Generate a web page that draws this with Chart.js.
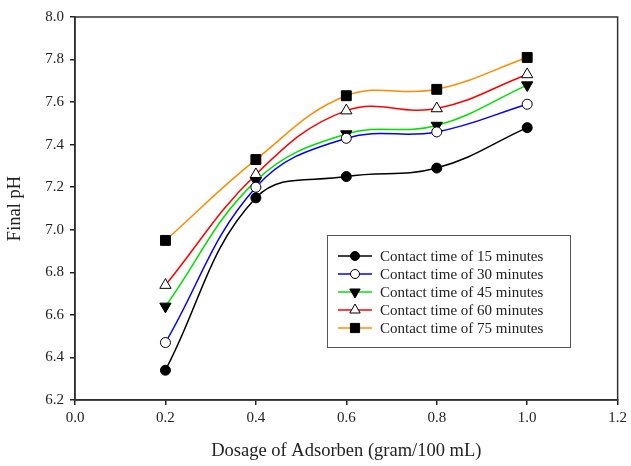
<!DOCTYPE html>
<html>
<head>
<meta charset="utf-8">
<script src="https://cdn.jsdelivr.net/npm/chart.js@4"></script>
<style>
  html, body { margin: 0; padding: 0; background: #fff; }
  #wrap { width: 631px; height: 466px; position: relative; }
</style>
</head>
<body>
<div id="wrap"><canvas id="phChart" width="631" height="466"></canvas></div>
<script>
const dosages = [0.2, 0.4, 0.6, 0.8, 1.0];
const seriesLabels = [
  'Contact time of 15 minutes',
  'Contact time of 30 minutes',
  'Contact time of 45 minutes',
  'Contact time of 60 minutes',
  'Contact time of 75 minutes'
];
const ph15 = [6.34, 7.15, 7.25, 7.29, 7.48];
const ph30 = [6.47, 7.20, 7.43, 7.46, 7.59];
const ph45 = [6.64, 7.23, 7.45, 7.49, 7.68];
const ph60 = [6.74, 7.26, 7.56, 7.57, 7.73];
const ph75 = [6.95, 7.33, 7.63, 7.66, 7.81];
const xTicks = [0.0, 0.2, 0.4, 0.6, 0.8, 1.0, 1.2];
const yTicks = [6.2, 6.4, 6.6, 6.8, 7.0, 7.2, 7.4, 7.6, 7.8, 8.0];

const FONT = "'Liberation Serif', 'Times New Roman', serif";

// marker look per series: line colour, symbol, fill, rotation, size
const styles = [
  { color: '#000000', point: 'circle', fill: '#000000', rotation: 0, r: 5 },
  { color: '#0000ff', point: 'circle', fill: '#ffffff', rotation: 0, r: 5 },
  { color: '#00e000', point: 'triangle', fill: '#000000', rotation: 180, r: 6.5 },
  { color: '#ff0000', point: 'triangle', fill: '#ffffff', rotation: 0, r: 6.5 },
  { color: '#ff8c00', point: 'rect', fill: '#000000', rotation: 0, r: 7 }
];

const allSeries = [ph15, ph30, ph45, ph60, ph75];

const datasets = allSeries.map((vals, i) => ({
  label: seriesLabels[i],
  data: dosages.map((x, j) => ({ x, y: vals[j] })),
  borderColor: styles[i].color,
  borderWidth: 1.5,
  tension: 0.4,
  pointStyle: styles[i].point,
  pointRotation: styles[i].rotation,
  pointRadius: styles[i].r,
  pointBackgroundColor: styles[i].fill,
  pointBorderColor: '#000000',
  pointBorderWidth: 1
}));

// frame round the plot plus the boxed legend inside it
const framePlugin = {
  id: 'frameAndLegend',
  afterDraw(chart) {
    const { ctx, chartArea } = chart;
    ctx.save();
    ctx.strokeStyle = '#333';
    ctx.lineWidth = 1.5;
    ctx.strokeRect(chartArea.left, chartArea.top, chartArea.right - chartArea.left, chartArea.bottom - chartArea.top);

    const boxX = 327, boxY = 235, boxW = 243, boxH = 112;
    ctx.fillStyle = '#fff';
    ctx.fillRect(boxX, boxY, boxW, boxH);
    ctx.strokeStyle = '#555';
    ctx.lineWidth = 1;
    ctx.strokeRect(boxX + 0.5, boxY + 0.5, boxW, boxH);

    ctx.font = '15px ' + FONT;
    ctx.textBaseline = 'middle';
    chart.data.datasets.forEach((ds, i) => {
      const y = boxY + 21 + i * 18;
      ctx.strokeStyle = ds.borderColor;
      ctx.lineWidth = 1.5;
      ctx.beginPath();
      ctx.moveTo(338, y);
      ctx.lineTo(372, y);
      ctx.stroke();
      ctx.fillStyle = ds.pointBackgroundColor;
      ctx.strokeStyle = '#000';
      ctx.lineWidth = 1;
      Chart.helpers.drawPoint(ctx, {
        pointStyle: ds.pointStyle,
        rotation: ds.pointRotation,
        radius: ds.pointRadius - 0.5,
        borderWidth: 1
      }, 355, y);
      ctx.fillStyle = '#222';
      ctx.fillText(ds.label, 380, y + 1);
    });
    ctx.restore();
  }
};

new Chart(document.getElementById('phChart'), {
  type: 'line',
  data: { datasets },
  plugins: [framePlugin],
  options: {
    responsive: false,
    animation: false,
    layout: { padding: { top: 17, right: 9, left: 0, bottom: 0 } },
    plugins: {
      legend: { display: false },
      tooltip: { enabled: false }
    },
    scales: {
      x: {
        type: 'linear',
        min: 0,
        max: 1.2,
        afterBuildTicks: (axis) => { axis.ticks = xTicks.map((v) => ({ value: v })); },
        afterFit: (axis) => { axis.height = 66; },
        ticks: {
          color: '#222',
          font: { family: FONT, size: 15 },
          padding: 4,
          maxRotation: 0,
          callback: (v) => Number(v).toFixed(1)
        },
        grid: { drawOnChartArea: false, tickLength: 5, color: '#222', lineWidth: 1.5 },
        border: { color: '#222', width: 1.5 },
        title: {
          display: true,
          text: 'Dosage of Adsorben (gram/100 mL)',
          color: '#222',
          font: { family: FONT, size: 18.5 },
          padding: { top: 14 }
        }
      },
      y: {
        type: 'linear',
        min: 6.2,
        max: 8.0,
        afterBuildTicks: (axis) => { axis.ticks = yTicks.map((v) => ({ value: v })); },
        afterFit: (axis) => { axis.width = 75; },
        ticks: {
          color: '#222',
          font: { family: FONT, size: 15 },
          padding: 6,
          callback: (v) => Number(v).toFixed(1)
        },
        grid: { drawOnChartArea: false, tickLength: 5, color: '#222', lineWidth: 1.5 },
        border: { color: '#222', width: 1.5 },
        title: {
          display: true,
          text: 'Final pH',
          color: '#222',
          font: { family: FONT, size: 18.5 },
          padding: { bottom: 2 }
        }
      }
    }
  }
});
</script>
</body>
</html>
